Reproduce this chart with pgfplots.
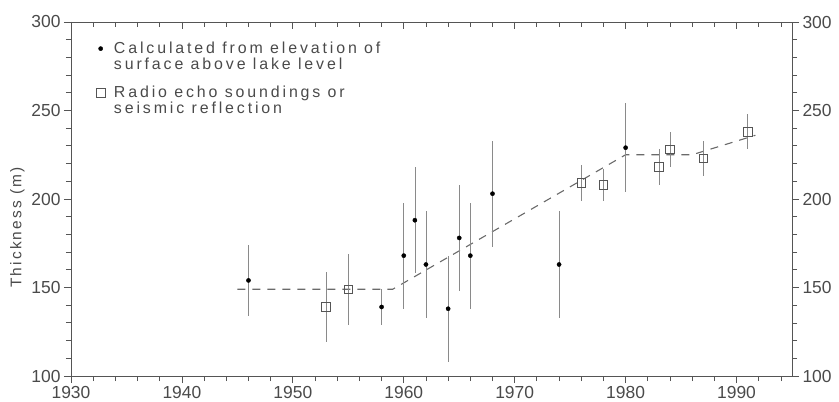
\documentclass[border=0pt]{standalone}
\usepackage{fontspec}
\setmainfont{Liberation Sans}
\newfontfamily\lsfont{Liberation Sans}[LetterSpace=18]
\newfontfamily\lsfontb{Liberation Sans}[LetterSpace=14]
\usepackage{pgfplots}
\usepackage{pgfplotstable}
\pgfplotsset{compat=1.18}
\definecolor{axgray}{HTML}{555555}
\definecolor{txtgray}{HTML}{4A4A4A}
\definecolor{errgray}{HTML}{8A8A8A}
\definecolor{dashgray}{HTML}{6A6A6A}

\pgfplotstableread{
year val err
1946 154 20
1958 139 10
1960 168 30
1961 188 30
1962 163 30
1964 138 30
1965 178 30
1966 168 30
1968 203 30
1974 163 30
1980 229 25
}\dots

\pgfplotstableread{
year val err
1953 139 20
1955 149 20
1976 209 10
1978 208 9
1983 218 10
1984 228 10
1987 223 10
1991 238 10
}\squares

\pgfplotstableread{
year val
1945 149
1959 149
1980 225
1986 225
1991.7 236
}\trend

\pgfplotsset{
  common/.style={
    scale only axis, width=721bp, height=354bp,
    xmin=1930, xmax=1995, ymin=100, ymax=300,
    xtick={1930,1940,...,1990}, minor xtick={1930,1932,...,1994},
    ytick={100,150,...,300}, minor ytick={100,110,...,300},
    major tick length=7bp, minor tick length=5bp,
    axis line style={axgray, line width=0.8bp},
    every tick/.style={axgray, line width=0.8bp},
    /pgf/number format/assume math mode=true,
    /pgf/number format/1000 sep={},
    tick label style={font=\fontsize{17.5}{19}\selectfont, text=txtgray},
  }
}

\begin{document}
\begin{tikzpicture}
\path[use as bounding box] (-71bp,-26bp) rectangle (768bp,376bp);
% top axis (ticks inside)
\begin{axis}[common, axis x line*=top, axis y line=none, tick align=inside,
  xticklabels={}]
\end{axis}
% right axis
\begin{axis}[common, axis y line*=right, axis x line=none, tick align=outside,
  yticklabel pos=right]
\end{axis}
% main axis
\begin{axis}[common, axis x line*=bottom, axis y line*=left, tick align=outside,
  ylabel={\lsfontb Thickness (m)},
  ylabel style={at={(ticklabel cs:0.42)}, font=\fontsize{15.5}{18}\selectfont, text=txtgray},
  legend style={draw=none, fill=none, at={(axis cs:1932.0,291)}, anchor=north west,
    font=\lsfont\fontsize{16}{15}\selectfont, text=txtgray, row sep=27bp},
  legend cell align=left,
]
\addplot[dashgray, dash pattern=on 8bp off 7bp, line width=1.1bp, forget plot]
  table[x=year, y=val] {\trend};
\addplot[only marks, mark=*, mark size=2.1bp, black,
  error bars/.cd, y dir=both, y explicit, error mark=none,
  error bar style={errgray, line width=0.7bp}]
  table[x=year, y=val, y error=err] {\dots};
\addlegendentry{\hspace{7bp}\begin{tabular}[t]{@{}l@{}}Calculated from elevation of\\[0bp]surface above lake level\end{tabular}}
\addplot[only marks, mark=square, mark size=4.3bp, draw=axgray, line width=0.7bp,
  error bars/.cd, y dir=both, y explicit, error mark=none,
  error bar style={errgray, line width=0.7bp}]
  table[x=year, y=val, y error=err] {\squares};
\addlegendentry{\hspace{7bp}\begin{tabular}[t]{@{}l@{}}Radio echo soundings or\\[0bp]seismic reflection\end{tabular}}
\end{axis}
\end{tikzpicture}
\end{document}
